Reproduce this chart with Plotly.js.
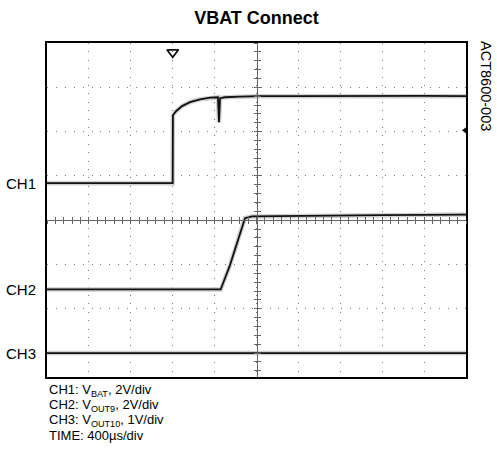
<!DOCTYPE html>
<html>
<head>
<meta charset="utf-8">
<script src="https://cdn.plot.ly/plotly-3.0.1.min.js"></script>
<style>html,body{margin:0;padding:0;background:#fff;}#chart{width:497px;height:462px;}</style>
</head>
<body>
<div id="chart"></div>
<script>
// Time axis in microseconds (400 us/div, 10 divisions)
const ch1Time = [0, 1195, 1200, 1202, 1232, 1289, 1365, 1461, 1556, 1632, 1642, 1652, 1699, 1842, 2033, 2400, 2800, 3200, 3600, 4000];
const ch1Volt = [0, 0, 0, 3.07, 3.25, 3.48, 3.66, 3.79, 3.86, 3.88, 2.75, 3.84, 3.88, 3.91, 3.93, 3.93, 3.94, 3.93, 3.94, 3.93];
const ch2Time = [0, 1658, 1747, 1824, 1890, 1957, 2500, 3200, 4000];
const ch2Volt = [0, 0, 1.10, 2.23, 3.22, 3.30, 3.33, 3.36, 3.38];
const ch3Time = [0, 4000];
const ch3Volt = [0, 0];
const channelNames = ["CH1", "CH2", "CH3"];
const voltsPerDiv = [2, 2, 1];
const channelOffsetDiv = [0.835, -1.564, -3.0];
const triggerTime = [1200];
const triggerLevelDiv = [2.03];
const noteLines = ["CH1: V<sub>BAT</sub>, 2V/div", "CH2: V<sub>OUT9</sub>, 2V/div", "CH3: V<sub>OUT10</sub>, 1V/div", "TIME: 400µs/div"];

const FONT = "Liberation Sans, Arial, sans-serif";
const toDiv = (v, i) => v.map(x => channelOffsetDiv[i] + x / voltsPerDiv[i]);

const yMin = -3.54, yMax = 4;
const haloStyle = {mode: "lines", line: {color: "#cfcfcf", width: 4.5}, hoverinfo: "skip", showlegend: false};
const traceStyle = {mode: "lines", line: {color: "#111", width: 1.8}, hoverinfo: "skip", showlegend: false};
const chTimes = [ch1Time, ch2Time, ch3Time];
const chVolts = [ch1Volt, ch2Volt, ch3Volt];
const data = [];
[2, 1, 0].forEach(i => data.push(Object.assign({x: chTimes[i], y: toDiv(chVolts[i], i), name: channelNames[i] + " halo"}, haloStyle)));
[2, 1, 0].forEach(i => data.push(Object.assign({x: chTimes[i], y: toDiv(chVolts[i], i), name: channelNames[i]}, traceStyle)));
data.push(
  {x: triggerTime, y: [3.79], mode: "markers", marker: {symbol: "triangle-down-open", size: 10, color: "#111", line: {width: 1.8, color: "#111"}}, cliponaxis: false, showlegend: false, hoverinfo: "skip"},
  {x: [4000], y: triggerLevelDiv, mode: "markers", marker: {symbol: "triangle-left", size: 8, color: "#111"}, cliponaxis: false, showlegend: false, hoverinfo: "skip"},
  {x: [], y: [], xaxis: "x2", yaxis: "y", showlegend: false},
  {x: [], y: [], xaxis: "x3", yaxis: "y", showlegend: false},
  {x: [], y: [], xaxis: "x", yaxis: "y2", showlegend: false},
  {x: [], y: [], xaxis: "x", yaxis: "y3", showlegend: false}
);

const centerX = {overlaying: "x", anchor: "free", position: (0 - yMin) / (yMax - yMin), range: [0, 4000], showline: true, linecolor: "#666", linewidth: 1, tick0: 0, dtick: 80, ticklen: 3, tickcolor: "#666", showticklabels: false, showgrid: false, zeroline: false};
const centerY = {overlaying: "y", anchor: "free", position: 0.5, range: [yMin, yMax], showline: true, linecolor: "#666", linewidth: 1, tick0: 0, dtick: 0.2, ticklen: 3, tickcolor: "#666", showticklabels: false, showgrid: false, zeroline: false};

const annotations = [];
channelNames.forEach((n, i) => annotations.push({text: n, xref: "paper", x: -9 / 419, xanchor: "right", yref: "y", y: channelOffsetDiv[i], yanchor: "middle", showarrow: false, font: {family: FONT, size: 15, color: "#000"}}));
noteLines.forEach((t, i) => annotations.push({text: t, xref: "paper", x: 0, xanchor: "left", yref: "paper", y: (377 - (390 + i * 15)) / 334, yanchor: "middle", showarrow: false, align: "left", font: {family: FONT, size: 13, color: "#000"}}));
annotations.push({text: "ACT8600-003", textangle: 90, xref: "paper", x: (486 - 47) / 419, xanchor: "center", yref: "paper", y: (377 - 39) / 334, yanchor: "top", showarrow: false, font: {family: FONT, size: 14.5, color: "#000"}});

const layout = {
  width: 497, height: 462,
  margin: {l: 47, r: 31, t: 43, b: 85, pad: 0},
  paper_bgcolor: "#fff", plot_bgcolor: "#fff",
  title: {text: "<b>VBAT Connect</b>", font: {family: FONT, size: 18, color: "#000"}, xref: "paper", x: 0.5, xanchor: "center", yref: "container", y: 1 - 18 / 462, yanchor: "middle"},
  xaxis: {range: [0, 4000], tick0: 0, dtick: 400, showgrid: true, gridcolor: "#7a7a7a", gridwidth: 1, griddash: "1px,7.4px", zeroline: false, showline: true, mirror: true, linecolor: "#000", linewidth: 2, showticklabels: false, ticks: ""},
  yaxis: {range: [yMin, yMax], tick0: 0, dtick: 1, showgrid: true, gridcolor: "#7a7a7a", gridwidth: 1, griddash: "1px,7.9px", zeroline: false, showline: true, mirror: true, linecolor: "#000", linewidth: 2, showticklabels: false, ticks: ""},
  xaxis2: Object.assign({ticks: "outside"}, centerX),
  xaxis3: Object.assign({ticks: "inside"}, centerX),
  yaxis2: Object.assign({ticks: "outside"}, centerY),
  yaxis3: Object.assign({ticks: "inside"}, centerY),
  annotations: annotations,
  showlegend: false
};

Plotly.newPlot("chart", data, layout, {displayModeBar: false, staticPlot: true});
</script>
</body>
</html>
